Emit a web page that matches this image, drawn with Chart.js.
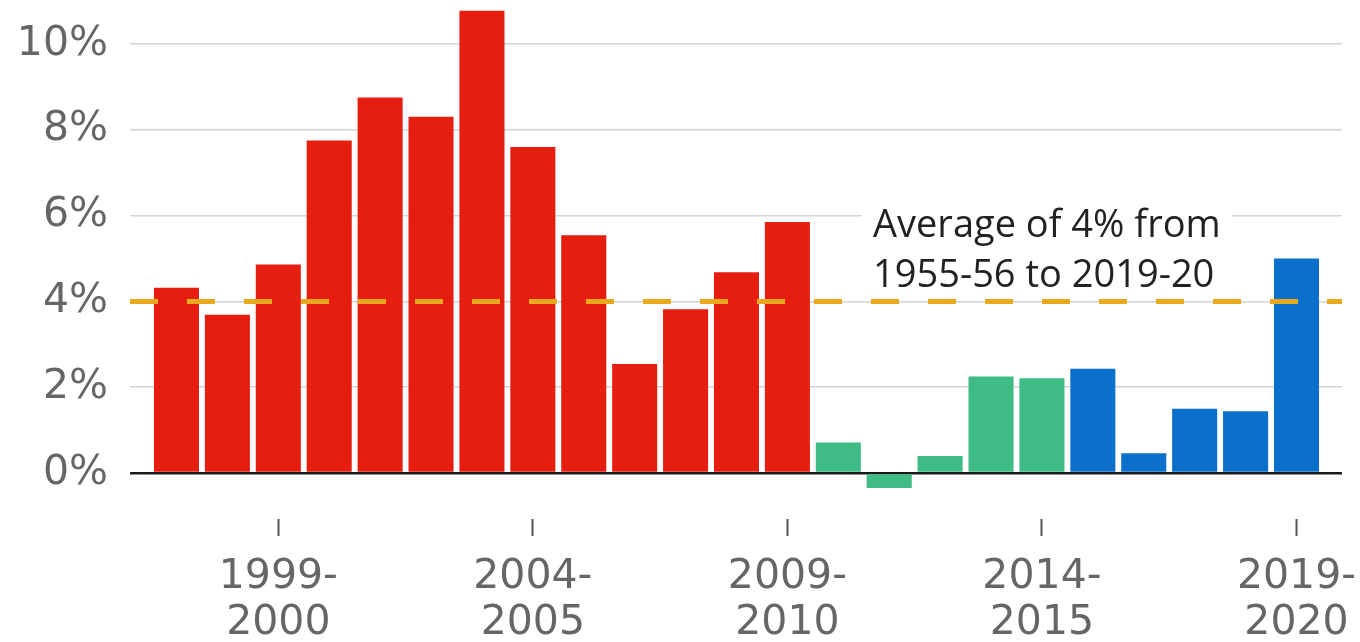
<!DOCTYPE html>
<html>
<head>
<meta charset="utf-8">
<script src="https://cdn.jsdelivr.net/npm/chart.js@4.4.1/dist/chart.umd.min.js"></script>
<style>
html, body { margin: 0; padding: 0; background: #fff; }
#myChart { display: block; }
</style>
</head>
<body>
<canvas id="myChart" width="1360" height="642"></canvas>
<script>
// financial years, one bar each
const seasons = ['1997-98','1998-99','1999-00','2000-01','2001-02','2002-03','2003-04','2004-05',
	'2005-06','2006-07','2007-08','2008-09','2009-10','2010-11','2011-12','2012-13','2013-14',
	'2014-15','2015-16','2016-17','2017-18','2018-19','2019-20'];
// % change
const growth = [4.32, 3.69, 4.86, 7.75, 8.75, 8.30, 10.77, 7.60, 5.54, 2.54, 3.82, 4.68, 5.85,
	0.71, -0.35, 0.40, 2.25, 2.21, 2.43, 0.46, 1.50, 1.44, 5.00];
// who was in government that year
const government = ['lab','lab','lab','lab','lab','lab','lab','lab','lab','lab','lab','lab','lab',
	'coalition','coalition','coalition','coalition','coalition',
	'con','con','con','con','con'];
const govColours = { lab: '#E61E10', coalition: '#3FBC86', con: '#0B6FCC' };

// x axis ticks
const tickSeasons = ['1999-00','2004-05','2009-10','2014-15','2019-20'];
const tickLabels = [['1999-','2000'],['2004-','2005'],['2009-','2010'],['2014-','2015'],['2019-','2020']];
// y axis ticks
const yTicks = [0, 2, 4, 6, 8, 10];

// long run average
const averageValue = 4;
const averageNote = ['Average of 4% from', '1955-56 to 2019-20'];

const AXIS_FONT = '"DejaVu Sans", sans-serif';
const NOTE_FONT = '"Open Sans", "Noto Sans", sans-serif';
const xMin = -0.913, xMax = 22.894; //little space left/right of the bars

const barPoints = growth.map((v, i) => ({ x: i, y: v }));
const avgPoints = [{ x: xMin, y: averageValue }, { x: xMax, y: averageValue }];

//annotation text with white box behind it
const notePlugin = {
	id: 'note',
	beforeDatasetsDraw(chart) {
		const ctx = chart.ctx;
		const ys = chart.scales.y;
		ctx.save();
		ctx.font = '38px ' + NOTE_FONT;
		const left = 873;
		const base2 = ys.getPixelForValue(averageValue) - 14;
		const base1 = base2 - 50;
		const w = Math.max(...averageNote.map(t => ctx.measureText(t).width));
		ctx.fillStyle = '#fff';
		ctx.fillRect(left - 11, base1 - 40, w + 22, 94);
		ctx.fillStyle = '#222';
		ctx.textBaseline = 'alphabetic';
		ctx.fillText(averageNote[0], left, base1);
		ctx.fillText(averageNote[1], left, base2);
		ctx.restore();
	}
};

const ctx = document.getElementById('myChart');

new Chart(ctx, {
	data: {
		datasets: [
			{
				type: 'line',
				label: 'average',
				data: avgPoints,
				borderColor: '#E8A91F',
				borderWidth: 5,
				borderDash: [28, 29],
				pointRadius: 0,
				order: 0,
			},
			{
				type: 'bar',
				label: 'growth',
				data: barPoints,
				backgroundColor: government.map(g => govColours[g]),
				borderWidth: 0,
				barPercentage: 0.885,
				categoryPercentage: 1,
				order: 1,
			}
		]
	},
	options: {
		responsive: false,
		animation: false,
		layout: { padding: { top: 1, right: 18, left: 0, bottom: 0 } },
		plugins: {
			legend: { display: false },
			tooltip: { enabled: false },
		},
		scales: {
			x: {
				type: 'linear',
				min: xMin,
				max: xMax,
				offset: false,
				afterBuildTicks: (scale) => {
					scale.ticks = tickSeasons.map(s => ({ value: seasons.indexOf(s) }));
				},
				afterFit: (scale) => {
					scale.height = 123;
					scale.paddingLeft = 0;
					scale.paddingRight = 0;
				},
				grid: {
					offset: false,
					drawOnChartArea: false,
					drawTicks: true,
					tickLength: 17,
					tickColor: '#555',
					tickWidth: 2,
				},
				border: { display: false },
				ticks: {
					maxRotation: 0,
					autoSkip: false,
					padding: 18,
					color: '#666',
					font: { family: AXIS_FONT, size: 41, lineHeight: 1.12 },
					callback: (value) => tickLabels[tickSeasons.indexOf(seasons[value])] || '',
				}
			},
			y: {
				min: -1.07,
				max: 11,
				afterBuildTicks: (scale) => {
					scale.ticks = yTicks.map(v => ({ value: v }));
				},
				afterFit: (scale) => {
					scale.width = 130;
					scale.paddingTop = 0;
					scale.paddingBottom = 0;
				},
				grid: {
					drawTicks: false,
					color: (c) => c.tick && c.tick.value === 0 ? '#1a1a1a' : '#d4d4d4',
					lineWidth: (c) => c.tick && c.tick.value === 0 ? 2.5 : 1.5,
				},
				border: { display: false },
				ticks: {
					padding: 22,
					color: '#666',
					font: { family: AXIS_FONT, size: 41 },
					callback: (v) => v + '%',
				}
			}
		}
	},
	plugins: [notePlugin]
});
</script>
</body>
</html>
